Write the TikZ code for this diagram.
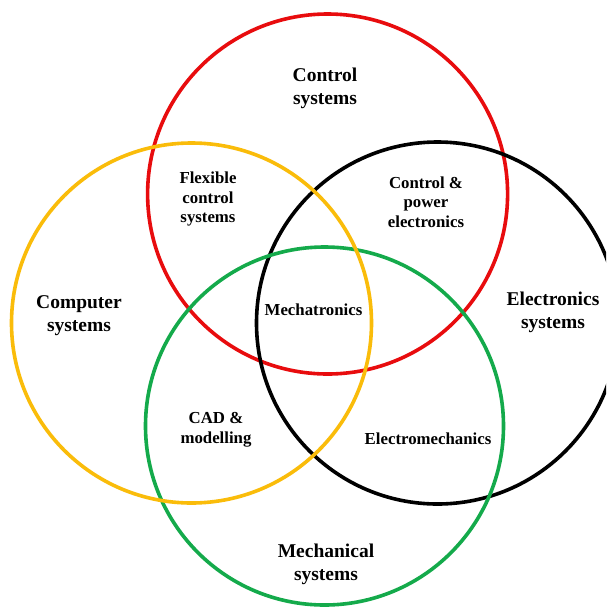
\documentclass[tikz,border=0pt]{standalone}
\usepackage{fontspec}
\setmainfont{Liberation Serif}
\begin{document}
\begin{tikzpicture}[x=1pt,y=-1pt,
  ring/.style={line width=3.6pt},
  biglabel/.style={align=center,font=\bfseries\fontsize{19.5}{23}\selectfont,inner sep=0pt},
  smalllabel/.style={align=center,font=\bfseries\fontsize{16.8}{19.5}\selectfont,inner sep=0pt}]
\definecolor{ctrlred}{RGB}{232,12,14}
\definecolor{compgold}{RGB}{250,188,10}
\definecolor{mechgreen}{RGB}{20,170,75}
\useasboundingbox (0,0) rectangle (606,614);
\fill[white] (0,0) rectangle (606,614);
\begin{scope}
  \clip (0,0) rectangle (606,614);
  % the four disciplines
  \draw[ring,ctrlred] (327.6,194) circle[radius=180];
  \draw[ring,black] (437.5,323) circle[radius=181];
  \draw[ring,mechgreen] (324.5,426) circle[radius=179];
  \draw[ring,compgold] (191.5,323) circle[radius=180];
\end{scope}
% discipline labels
\node[biglabel] (ctrl) at (325,88) {Control\\systems};
\node[biglabel] (comp) at (79,316) {Computer\\systems};
\node[biglabel] (elec) at (553,312) {Electronics\\systems};
\node[biglabel] (mech) at (326,564) {Mechanical\\systems};
% overlap labels
\node[smalllabel] (flex) at (208,199) {Flexible\\control\\systems};
\node[smalllabel] (power) at (426,202) {Control \&\\power\\electronics};
\node[smalllabel] (mtron) at (313.5,310) {Mechatronics};
\node[smalllabel] (cad) at (216,430) {CAD \&\\modelling};
\node[smalllabel] (emech) at (428,439) {Electromechanics};
\end{tikzpicture}
\end{document}
